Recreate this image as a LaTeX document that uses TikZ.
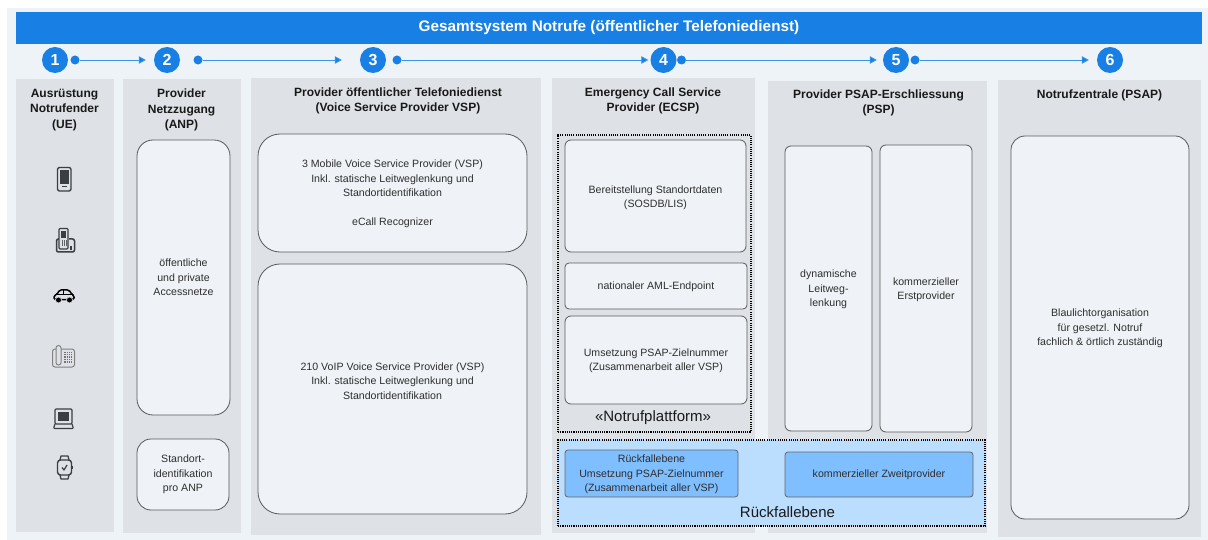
\documentclass[tikz,border=0pt]{standalone}
\usepackage{fontspec}
\setmainfont{Liberation Sans}
\usetikzlibrary{arrows.meta}
\definecolor{pagebg}{HTML}{EEF3F7}
\definecolor{mainblue}{HTML}{1880E4}
\definecolor{flowblue}{HTML}{3A94E8}
\definecolor{panelgrey}{HTML}{DEE2E6}
\definecolor{boxfill}{HTML}{EFF3F7}
\definecolor{fallbackbg}{HTML}{BBDEFF}
\definecolor{fallbackbox}{HTML}{7FBEFF}
\definecolor{icondark}{HTML}{3A3F44}
\definecolor{textdark}{HTML}{2E2E2E}
\tikzset{
  panel/.style={fill=panelgrey,draw=none},
  rbox/.style={draw=black!65,fill=boxfill,line width=.8pt},
  fbox/.style={draw=black!60,fill=fallbackbox,line width=.8pt},
  dotbox/.style={draw=black,line width=1.1pt,dash pattern=on 1.1pt off 1.1pt},
  lbl/.style={font=\fontsize{10.6}{14.5}\selectfont,text=textdark,align=center},
  head/.style={font=\fontsize{12}{15.6}\selectfont\bfseries,text=black!90,align=center},
  big/.style={font=\fontsize{15}{17}\selectfont,text=black!90},
  stepnum/.style={circle,fill=mainblue,text=white,minimum size=26pt,inner sep=0pt,font=\fontsize{16}{16}\selectfont\bfseries},
  flowdot/.style={circle,fill=mainblue,minimum size=9pt,inner sep=0pt},
  flow/.style={draw=flowblue,line width=.8pt,-{Triangle[length=7pt,width=7.5pt,fill=mainblue]}},
  ic/.style={draw=icondark,line width=1.2pt,fill=none,line join=round},
}
\newcommand{\rrect}[6]{%
  \node[#1,rounded corners=#6,minimum width=#4pt-#2pt,minimum height=#5pt-#3pt,inner sep=0pt] at ({(#2+#4)/2},{(#3+#5)/2}) }
\newcommand{\tallstrut}[1]{\rule{0pt}{#1pt}}
\begin{document}
\begin{tikzpicture}[x=1pt,y=-1pt]
\useasboundingbox (0,0) rectangle (1208,540);
\fill[pagebg] (7,8) rectangle (1208,540);
\node[fill=mainblue,minimum width=1186pt,minimum height=32pt,inner sep=0pt,text=white,font=\fontsize{15.3}{16}\selectfont\bfseries] (bar) at (609,28) {Gesamtsystem Notrufe (öffentlicher Telefoniedienst)};

% panels
\fill[panel] (16,79) rectangle (114,532);
\fill[panel] (123,79) rectangle (241,533);
\fill[panel] (251,78) rectangle (541,535);
\fill[panel] (552,78) rectangle (755,533);
\fill[panel] (768,81) rectangle (987,533);
\fill[panel] (998,80) rectangle (1201,537);

% headers
\node[head] (h1) at (64.5,110) {Ausrüstung\\Notrufender\\(UE)};
\node[head] (h2) at (181.5,110) {Provider\\Netzzugang\\(ANP)};
\node[head] (h3) at (398,101) {Provider öffentlicher Telefoniedienst\\(Voice Service Provider VSP)};
\node[head] (h4) at (653,101) {Emergency Call Service\\Provider (ECSP)};
\node[head] (h5) at (878.5,103) {Provider PSAP-Erschliessung\\(PSP)};
\node[head] (h6) at (1099.5,95) {Notrufzentrale (PSAP)};

% steps
\node[stepnum] (s1) at (55,60) {1};
\node[stepnum] (s2) at (167,60) {2};
\node[stepnum] (s3) at (373,60) {3};
\node[stepnum] (s4) at (663.5,60) {4};
\node[stepnum] (s5) at (896,60) {5};
\node[stepnum] (s6) at (1110,60) {6};
\node[flowdot] (d1) at (75,60) {};
\node[flowdot] (d2) at (198,60) {};
\node[flowdot] (d3) at (397,60) {};
\node[flowdot] (d4) at (681.5,60) {};
\node[flowdot] (d5) at (915,60) {};
\draw[flow,shorten >=8pt] (d1) -- (s2);
\draw[flow,shorten >=18pt] (d2) -- (s3);
\draw[flow,shorten >=2pt] (d3) -- (s4);
\draw[flow,shorten >=6pt] (d4) -- (s5);
\draw[flow,shorten >=8pt] (d5) -- (s6);

% panel 2
\rrect{rbox,lbl}{137}{140}{230}{415}{16pt} (b21) {öffentliche\\und private\\Accessnetze};
\rrect{rbox,lbl}{137}{439}{229}{510}{14pt} (b22) {Standort-\\identifikation\\pro ANP};
% panel 3
\rrect{rbox,lbl}{258}{134}{527}{252}{22pt} (b31) {\tallstrut{9.6}3 Mobile Voice Service Provider (VSP)\\Inkl. statische Leitweglenkung und\\Standortidentifikation\\[14.5pt]eCall Recognizer};
\rrect{rbox,lbl}{258}{264}{527}{514}{22pt} (b32) {210 VoIP Voice Service Provider (VSP)\\Inkl. statische Leitweglenkung und\\Standortidentifikation\rule[-16.5pt]{0pt}{1pt}};
% panel 4
\rrect{dotbox}{558}{135}{751}{432}{0pt} (plat) {};
\rrect{rbox,lbl}{565}{140}{746}{252}{6pt} (b41) {\tallstrut{11.6}Bereitstellung Standortdaten\\(SOSDB/LIS)};
\rrect{rbox,lbl}{565}{263}{747}{309}{4pt} (b42) {\tallstrut{9.6}nationaler AML-Endpoint};
\rrect{rbox,lbl}{565}{316}{747}{404}{6pt} (b43) {\tallstrut{9.6}Umsetzung PSAP-Zielnummer\\(Zusammenarbeit aller VSP)};
\node[big] (platl) at (653,418) {«Notrufplattform»};
% panel 5
\rrect{rbox,lbl}{785}{146}{872}{431}{6pt} (b51) {\tallstrut{9.6}dynamische\\Leitweg-\\lenkung};
\rrect{rbox,lbl}{880}{145}{972}{432}{6pt} (b52) {\tallstrut{10.6}kommerzieller\\Erstprovider};
% fallback
\rrect{dotbox,fill=fallbackbg}{558}{440}{985}{526}{0pt} (fall) {};
\rrect{fbox,lbl}{565}{450}{738}{497}{3pt} (f1) {\tallstrut{9.6}Rückfallebene\\Umsetzung PSAP-Zielnummer\\(Zusammenarbeit aller VSP)};
\rrect{fbox,lbl}{785}{452}{973}{497}{3pt} (f2) {kommerzieller Zweitprovider};
\node[big] (falll) at (787.5,512) {Rückfallebene};
% panel 6
\rrect{rbox,lbl}{1011}{136}{1189}{519}{14pt} (b61) {\tallstrut{9.6}Blaulichtorganisation\\für gesetzl. Notruf\\fachlich \& örtlich zuständig};

% icons: mobile
\draw[ic,line width=1.4pt,rounded corners=2pt] (57.5,167.5) rectangle (71,191);
\fill[icondark] (60,170) rectangle (68.5,184);
\fill[icondark] (61.5,186) rectangle (67,187.5);
% icons: cordless phone on base
\draw[ic,line width=1.5pt,rounded corners=2pt] (56.5,239) rectangle (74.5,252);
\fill[panelgrey] (58.5,228) rectangle (69,249);
\draw[ic,rounded corners=1pt] (59,228.5) rectangle (68,249);
\fill[icondark] (61,231) rectangle (66,238);
\foreach \px in {61.5,63.5,65.5}\foreach \py in {240.5,242.5,244.5}{\fill[icondark!80] (\px,\py) rectangle +(1.3,1.3);}
\fill[icondark] (70,246) rectangle (72,250);
% icons: car
\draw[draw=black,line width=1.5pt,line join=round,rounded corners=1.5pt] (54,295.5) -- (57,294.5) -- (59.5,290) -- (69,290) -- (72,294.5) -- (74,295.5) -- (74,299.5) -- (54,299.5) -- cycle;
\draw[black,line width=1pt] (63.5,290) -- (63.5,294.5) (57,294.5) -- (72,294.5);
\fill[black,draw=panelgrey,line width=.6pt] (58.5,300) circle (3);
\fill[black,draw=panelgrey,line width=.6pt] (69.5,300) circle (3);
% icons: desk phone
\draw[draw=black!50,line width=1pt,rounded corners=2.5pt] (52.5,349) rectangle (74.5,367);
\draw[draw=black!50,fill=panelgrey,line width=1pt,rounded corners=2.5pt] (56,345.5) rectangle (61,365);
\fill[black!55] (64,352) rectangle (72,363);
\foreach \py in {353,355.5,358,360.5}{\draw[panelgrey,line width=.6pt] (64,\py) -- (72,\py);}
\foreach \px in {66,68,70}{\draw[panelgrey,line width=.6pt] (\px,352) -- (\px,363);}
% icons: laptop
\draw[ic,rounded corners=1pt] (55,409) rectangle (72,424);
\fill[icondark] (58,412) rectangle (69,421);
\draw[ic,rounded corners=1pt] (55,424) -- (53.5,428.5) -- (73.5,428.5) -- (72,424);
% icons: smart watch
\draw[ic,line width=1.4pt,rounded corners=3pt] (57.5,460) rectangle (71.5,475);
\draw[ic,line width=1.3pt] (60,460) -- (61,456) -- (68,456) -- (69,460);
\draw[ic,line width=1.3pt] (60,475) -- (61,479) -- (68,479) -- (69,475);
\fill[icondark] (71.5,465.5) rectangle (73,469);
\draw[ic,line width=1.2pt] (62,467.5) -- (64,470) -- (67,465);
\end{tikzpicture}
\end{document}
